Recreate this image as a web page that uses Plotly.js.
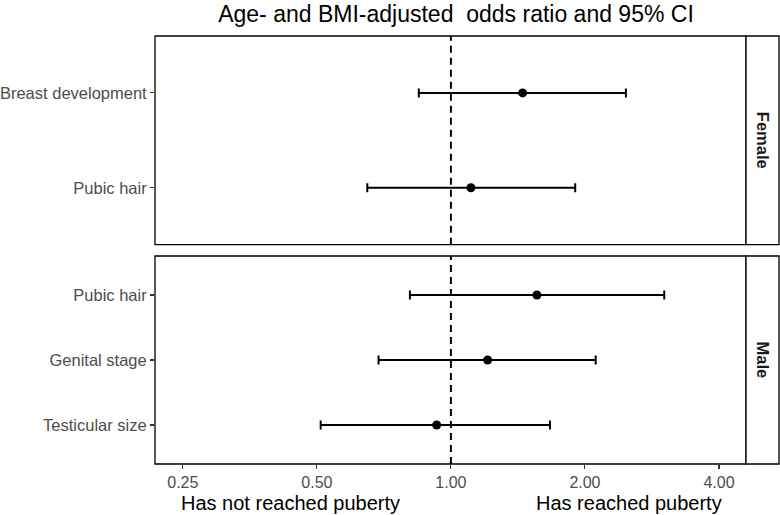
<!DOCTYPE html>
<html>
<head>
<meta charset="utf-8">
<script src="https://cdn.plot.ly/plotly-3.0.1.min.js"></script>
<style>html,body{margin:0;padding:0;background:#fff;}#chart{width:780px;height:515px;}</style>
</head>
<body>
<div id="chart"></div>
<script>
// Female panel (bottom -> top order)
const femaleItems = ["Pubic hair", "Breast development"];
const femaleOR = [1.109, 1.449];
const femaleLo = [0.649, 0.847];
const femaleHi = [1.902, 2.472];

// Male panel (bottom -> top order)
const maleItems = ["Testicular size", "Genital stage", "Pubic hair"];
const maleOR = [0.929, 1.209, 1.560];
const maleLo = [0.510, 0.688, 0.809];
const maleHi = [1.669, 2.114, 3.014];

const tickValues = [0.25, 0.5, 1, 2, 4];
const tickLabels = ["0.25", "0.50", "1.00", "2.00", "4.00"];
const refValue = 1;
const panelNames = ["Female", "Male"];
const xTitles = ["Has not reached puberty", "Has reached puberty"];
const chartTitle = "Age- and BMI-adjusted  odds ratio and 95% CI";

const FONT = "Liberation Sans, Arial, Helvetica, sans-serif";

function makeTrace(items, or, lo, hi, xa, ya) {
  return {
    type: "scatter", mode: "markers",
    x: or, y: items, xaxis: xa, yaxis: ya,
    marker: {color: "#000", size: 9},
    error_x: {
      type: "data", symmetric: false,
      array: hi.map((h, i) => h - or[i]),
      arrayminus: lo.map((l, i) => or[i] - l),
      color: "#000", thickness: 2, width: 4.5
    },
    showlegend: false, hoverinfo: "x+y"
  };
}

function refTrace(xa, ya) {
  return {
    type: "scatter", mode: "lines",
    x: [refValue, refValue], y: [0, 1], xaxis: xa, yaxis: ya,
    line: {color: "#000", width: 2, dash: "7px,5px"},
    showlegend: false, hoverinfo: "skip"
  };
}

const traces = [
  refTrace("x2", "y3"),
  refTrace("x", "y4"),
  makeTrace(femaleItems, femaleOR, femaleLo, femaleHi, "x2", "y"),
  makeTrace(maleItems, maleOR, maleLo, maleHi, "x", "y2")
];

const L = 155, R = 1, T = 36, B = 51;
const W = 780, H = 515;
const pw = W - L - R, ph = H - T - B;
const xEnd = (746 - L) / pw;
const topDomain = [(464 - 244.7) / ph, 1];
const botDomain = [0, (464 - 256) / ph];

const xr = [Math.log10(0.2165), Math.log10(4.6)];

const yCommon = {
  type: "category", ticks: "outside", ticklen: 4, tickwidth: 1.1, tickcolor: "#333",
  tickfont: {family: FONT, size: 16.5, color: "#4d4d4d"},
  showgrid: false, zeroline: false, showline: false, fixedrange: true
};

const layout = {
  width: W, height: H,
  margin: {l: L, r: R, t: T, b: B, pad: 0},
  paper_bgcolor: "#fff", plot_bgcolor: "#fff",
  font: {family: FONT},
  title: {text: chartTitle, x: 456 / W, xanchor: "center", xref: "container",
          y: 1 - 6 / H, yanchor: "top", yref: "container",
          font: {family: FONT, size: 23, color: "#000"}},
  xaxis: {
    type: "log", range: xr, domain: [0, xEnd], anchor: "y2",
    tickvals: tickValues, ticktext: tickLabels,
    ticks: "outside", ticklen: 4, tickwidth: 1.1, tickcolor: "#333",
    tickfont: {family: FONT, size: 16, color: "#4d4d4d"},
    showgrid: false, zeroline: false, showline: false
  },
  xaxis2: {
    type: "log", range: xr, domain: [0, xEnd], anchor: "y", matches: "x",
    showticklabels: false, ticks: "", showgrid: false, zeroline: false, showline: false
  },
  yaxis: Object.assign({}, yCommon, {domain: topDomain, anchor: "x2",
    categoryorder: "array", categoryarray: femaleItems, range: [-0.6, femaleItems.length - 0.4]}),
  yaxis2: Object.assign({}, yCommon, {domain: botDomain, anchor: "x",
    categoryorder: "array", categoryarray: maleItems, range: [-0.6, maleItems.length - 0.4]}),
  yaxis3: {overlaying: "y", anchor: "x2", range: [0, 1], visible: false, fixedrange: true},
  yaxis4: {overlaying: "y2", anchor: "x", range: [0, 1], visible: false, fixedrange: true},
  shapes: [
    // panel borders
    {type: "rect", xref: "x2 domain", yref: "y domain", x0: 0, x1: 1, y0: 0, y1: 1,
     line: {color: "#000", width: 1.3}, fillcolor: "rgba(0,0,0,0)"},
    {type: "rect", xref: "x domain", yref: "y2 domain", x0: 0, x1: 1, y0: 0, y1: 1,
     line: {color: "#000", width: 1.3}, fillcolor: "rgba(0,0,0,0)"},
    // strips
    {type: "rect", xref: "paper", yref: "y domain", x0: xEnd, x1: 1, y0: 0, y1: 1,
     line: {color: "#000", width: 1.3}, fillcolor: "#fff"},
    {type: "rect", xref: "paper", yref: "y2 domain", x0: xEnd, x1: 1, y0: 0, y1: 1,
     line: {color: "#000", width: 1.3}, fillcolor: "#fff"}
  ],
  annotations: [
    {text: "<b>" + panelNames[0] + "</b>", xref: "paper", yref: "y domain", x: (xEnd + 1) / 2, y: 0.5,
     textangle: 90, showarrow: false, xanchor: "center", yanchor: "middle",
     font: {family: FONT, size: 16.5, color: "#1a1a1a"}},
    {text: "<b>" + panelNames[1] + "</b>", xref: "paper", yref: "y2 domain", x: (xEnd + 1) / 2, y: 0.5,
     textangle: 90, showarrow: false, xanchor: "center", yanchor: "middle",
     font: {family: FONT, size: 16.5, color: "#1a1a1a"}},
    {text: xTitles[0], xref: "paper", yref: "paper", x: (290 - L) / pw, y: -(503 - 464) / ph,
     showarrow: false, xanchor: "center", yanchor: "middle",
     font: {family: FONT, size: 20, color: "#000"}},
    {text: xTitles[1], xref: "paper", yref: "paper", x: (629 - L) / pw, y: -(503 - 464) / ph,
     showarrow: false, xanchor: "center", yanchor: "middle",
     font: {family: FONT, size: 20, color: "#000"}}
  ]
};

Plotly.newPlot("chart", traces, layout, {displayModeBar: false, staticPlot: true});
</script>
</body>
</html>
